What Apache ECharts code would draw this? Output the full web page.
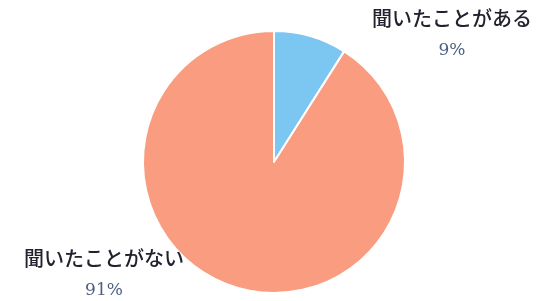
<!doctype html>
<html>
<head>
	<meta charset="utf-8">
	<script type="text/javascript" src="https://cdn.jsdelivr.net/npm/echarts@6/dist/echarts.min.js"></script>
	<style>
		html, body { margin: 0; padding: 0; background: #fff; }
		#pie { width: 552px; height: 301px; }
	</style>
</head>
<body>
<div id="pie"></div>
<script>
	var names = ['聞いたことがある', '聞いたことがない'];
	var values = [9, 91];
	var colors = ['#7cc6f2', '#f99c7f'];

	// ラベル位置 (左上基準)
	var labelPos = [
		{ x: 452, y: 3 },
		{ x: 104, y: 243 }
	];

	var chart = echarts.init(document.getElementById('pie'));

	var pieData = [];
	for (var i = 0; i < names.length; i++) {
		pieData.push({ name: names[i], value: values[i], itemStyle: { color: colors[i] } });
	}

	var option = {
		backgroundColor: '#fff',
		animation: false,
		series: [{
			type: 'pie',
			center: [274, 162],
			radius: 131,
			startAngle: 90,
			clockwise: true,
			data: pieData,
			itemStyle: {
				borderColor: '#fff',
				borderWidth: 2
			},
			labelLine: { show: false },
			label: {
				show: true,
				position: 'outside',
				formatter: '{n|{b}}\n{p|{d}%}',
				rich: {
					n: {
						fontFamily: 'Noto Sans CJK JP',
						fontSize: 20,
						fontWeight: 500,
						color: '#22222e',
						lineHeight: 30,
						align: 'center'
					},
					p: {
						fontFamily: 'DejaVu Serif',
						fontSize: 17,
						color: '#4d5f80',
						lineHeight: 36,
						align: 'center'
					}
				}
			},
			labelLayout: function (params) {
				var pos = labelPos[params.dataIndex];
				return { x: pos.x, y: pos.y, align: 'center', verticalAlign: 'top' };
			}
		}]
	};

	chart.setOption(option);
</script>
</body>
</html>
